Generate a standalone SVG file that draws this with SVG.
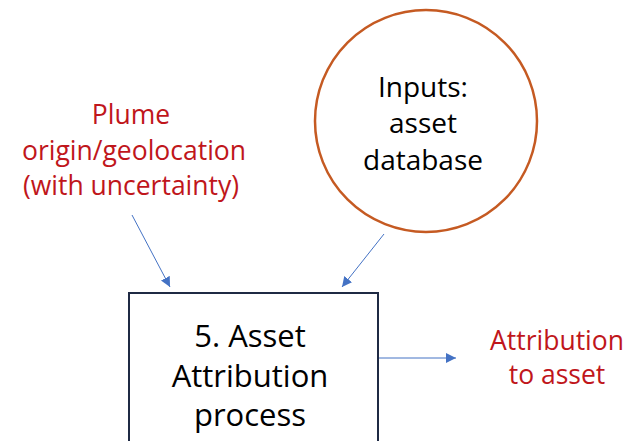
<svg xmlns="http://www.w3.org/2000/svg" width="629" height="441" viewBox="0 0 629 441">
<style>
.red{fill:#c0161b;font-family:"Open Sans","Liberation Sans",sans-serif;font-size:26.5px;text-anchor:middle}
.blk{fill:#000;font-family:"Open Sans","Liberation Sans",sans-serif;text-anchor:middle}
.conn{stroke:#4472c4;stroke-width:1;fill:none;marker-end:url(#ah)}
</style>
<defs>
<marker id="ah" viewBox="0 0 10 10" refX="10" refY="5" markerWidth="10" markerHeight="10" markerUnits="userSpaceOnUse" orient="auto">
<path d="M0,0 L10,5 L0,10 z" fill="#4472c4"/>
</marker>
</defs>
<rect width="629" height="441" fill="#fff"/>
<g id="plume">
<text class="red" x="131" y="124">Plume</text>
<text class="red" x="134" y="160">origin/geolocation</text>
<text class="red" x="131" y="195">(with uncertainty)</text>
</g>
<g id="inputs">
<circle cx="426" cy="121" r="111" fill="#fff" stroke="#c55a22" stroke-width="2.5"/>
<text class="blk" font-size="28" x="423" y="97">Inputs:</text>
<text class="blk" font-size="28" x="423" y="133">asset</text>
<text class="blk" font-size="28" x="423" y="170">database</text>
</g>
<g id="process">
<rect x="129" y="293" width="249" height="160" fill="#fff" stroke="#1f2a44" stroke-width="2"/>
<text class="blk" font-size="31" x="250" y="347">5. Asset</text>
<text class="blk" font-size="31" x="250" y="387">Attribution</text>
<text class="blk" font-size="31" x="250" y="426">process</text>
</g>
<g id="attribution">
<text class="red" font-size="28" x="557" y="350">Attribution</text>
<text class="red" font-size="28" x="557" y="384">to asset</text>
</g>
<g id="connectors">
<line class="conn" x1="132" y1="215" x2="170" y2="287"/>
<line class="conn" x1="384" y1="234" x2="342" y2="287"/>
<line class="conn" x1="379" y1="358" x2="456" y2="358"/>
</g>
</svg>
